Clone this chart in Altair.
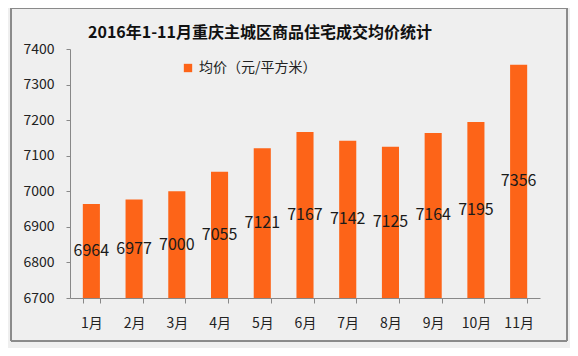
import altair as alt
import pandas as pd

months = ["1月", "2月", "3月", "4月", "5月", "6月", "7月", "8月", "9月", "10月", "11月"]
prices = [6964, 6977, 7000, 7055, 7121, 7167, 7142, 7125, 7164, 7195, 7356]
series_name = "均价（元/平方米）"
y_ticks = [6700, 6800, 6900, 7000, 7100, 7200, 7300, 7400]

df = pd.DataFrame({"month": months, "price": prices, "series": [series_name] * len(months)})

FONT = "Noto Sans CJK SC"
ORANGE = "#fd6418"

x_axis = alt.Axis(labelAngle=0, labelFontSize=14, labelColor="#222222",
                  labelFont=FONT, labelPadding=13, tickBand="extent",
                  tickSize=5, domainColor="#888888", tickColor="#888888")
x_scale = alt.Scale(paddingInner=0.6, paddingOuter=0.3)
y_axis = alt.Axis(values=y_ticks, format="d", labelOverlap=False,
                  labelFontSize=14, labelColor="#222222",
                  labelFont=FONT, labelPadding=12, grid=False, tickSize=4,
                  domainColor="#888888", tickColor="#888888")
y_scale = alt.Scale(domain=[6700, 7400], nice=False, zero=False)

bars = alt.Chart(df).mark_bar(color=ORANGE).encode(
    x=alt.X("month:N", sort=months, title=None, scale=x_scale, axis=x_axis),
    y=alt.Y("price:Q", scale=y_scale, title=None, axis=y_axis),
    y2=alt.datum(6700),
    color=alt.Color("series:N", scale=alt.Scale(range=[ORANGE]),
                    legend=alt.Legend(title=None, orient="none", legendX=111, legendY=12,
                                      symbolType="square", symbolSize=70,
                                      labelFontSize=14, labelFont=FONT, labelColor="#222222",
                                      symbolStrokeWidth=0)),
)

labels = alt.Chart(df).transform_calculate(
    mid="(datum.price + 6700) / 2"
).mark_text(fontSize=16, font=FONT, color="#1a1a1a", baseline="middle").encode(
    x=alt.X("month:N", sort=months, title=None, scale=x_scale, axis=x_axis),
    y=alt.Y("mid:Q", scale=y_scale, title=None, axis=y_axis),
    text=alt.Text("price:Q", format="d"),
)

frame = alt.Chart(df).mark_rect(fill=None, stroke="#8a8a8a", strokeWidth=1).encode(
    x=alt.value(-59), x2=alt.value(497), y=alt.value(-41), y2=alt.value(292)
)

chart = alt.layer(frame, bars, labels).properties(
    width=470, height=249,
    title=alt.TitleParams("2016年1-11月重庆主城区商品住宅成交均价统计", fontSize=16,
                          font=FONT, fontWeight="bold", color="#111111", anchor="middle",
                          dx=-45, offset=-33),
    autosize=alt.AutoSizeParams(type="none"),
    padding={"left": 62, "top": 41, "right": 30, "bottom": 50},
    background="#efefef",
).configure_view(stroke=None)

chart.save("out.html", embed_options={"renderer": "svg", "actions": False})
